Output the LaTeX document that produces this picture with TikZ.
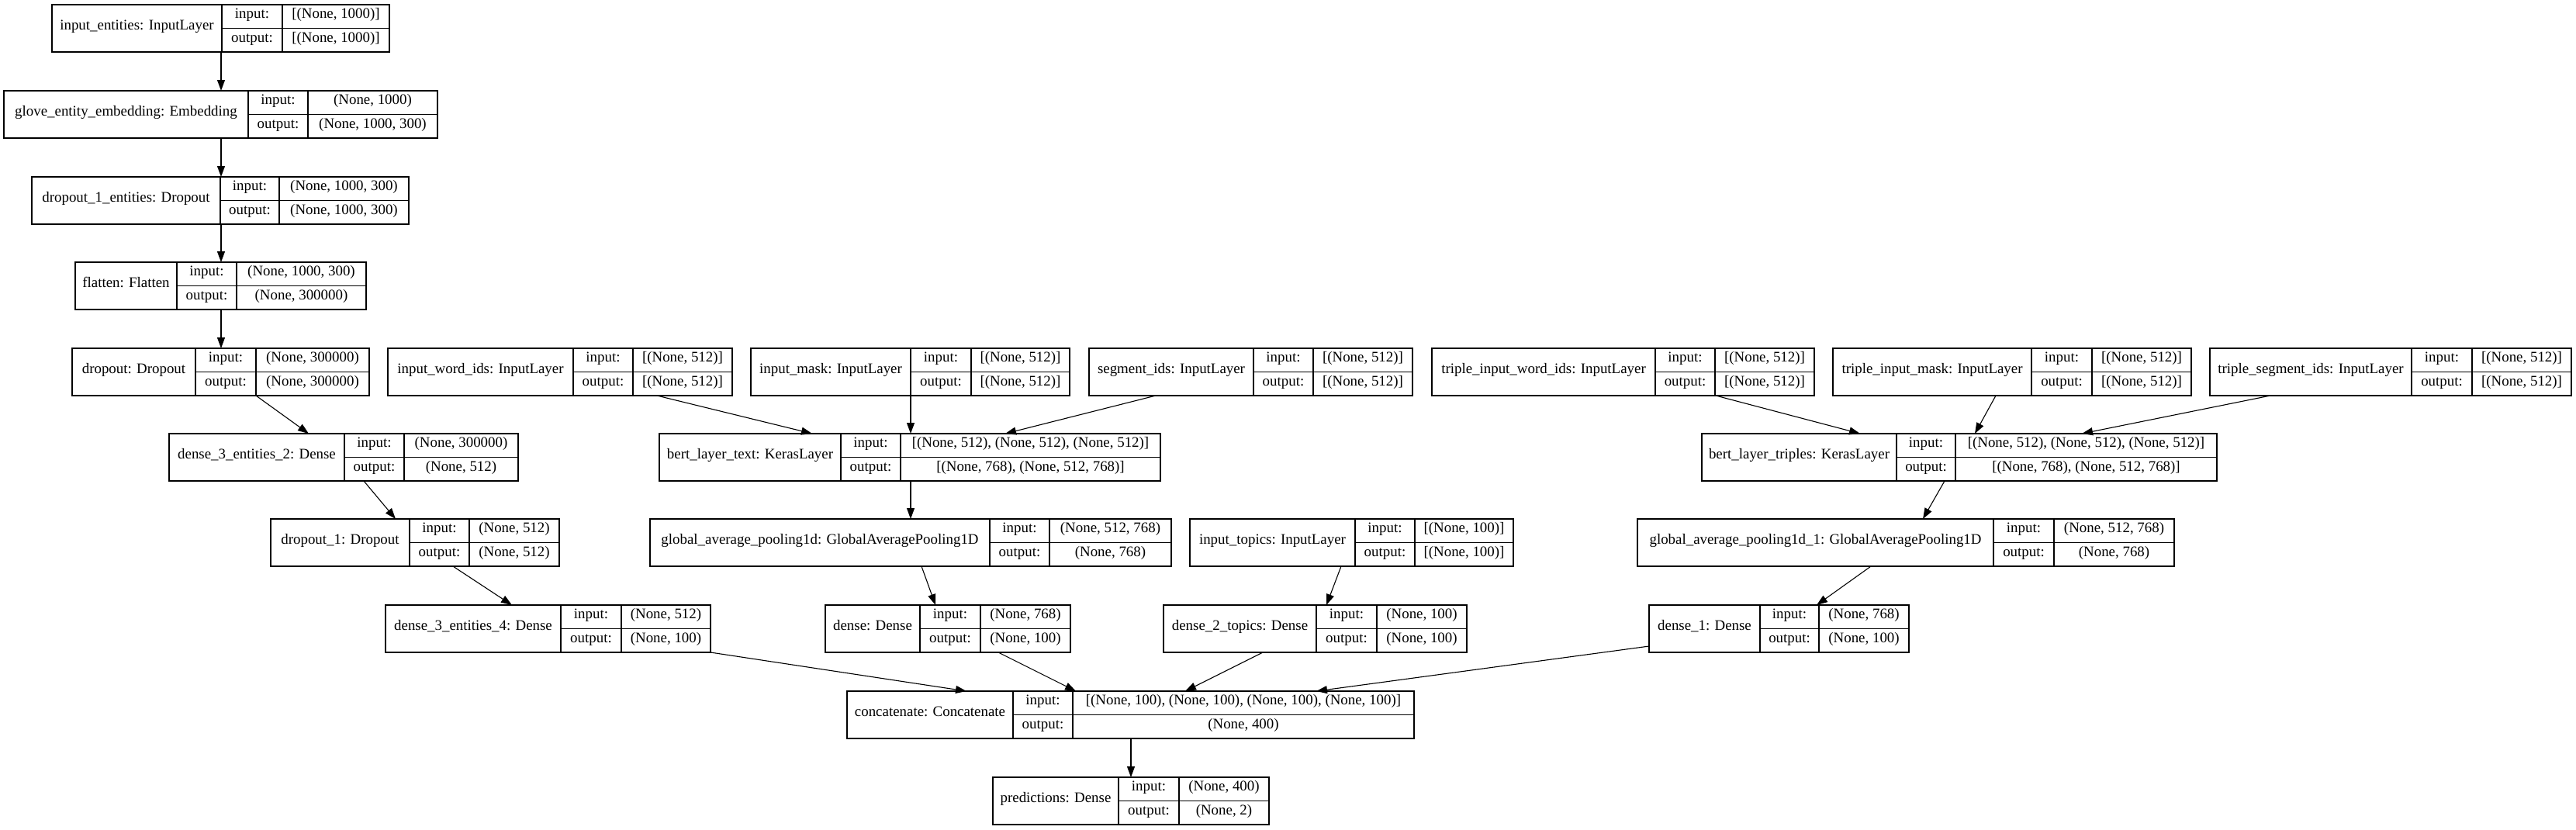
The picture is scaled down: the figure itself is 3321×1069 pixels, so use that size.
\documentclass[tikz,border=0pt]{standalone}
\usepackage{fontspec}
\setmainfont{Liberation Serif}
\usepackage{tikz}
\usetikzlibrary{arrows.meta}
\tikzset{
  layerbox/.style={draw=black, line width=1.1pt, inner sep=0pt, outer sep=0pt, minimum height=61pt},
  cell/.style={draw=black, line width=1.1pt},
  celltext/.style={inner sep=0pt, text height=0.7em, text depth=0.22em, font=\fontsize{18.9}{22}\selectfont},
  flow/.style={-{Triangle[length=14pt,width=10pt]}, line width=1.1pt, draw=black},
}
% id, x left, x input col, x value col, x right, y top, name, input, output
\newcommand{\layer}[9]{%
  \node[layerbox,minimum width={(#5-#2)*1pt},anchor=north west] (#1) at (#2,#6) {};
  \draw[cell] (#3,#6) -- ++(0,61) (#4,#6) -- ++(0,61) (#3,#6+30.5) -- (#5,#6+30.5);
  \node[celltext] (#1-name) at ({(#2+#3)/2},#6+30.5) {#7};
  \node[celltext] (#1-inl) at ({(#3+#4)/2},#6+15.25) {input:};
  \node[celltext] (#1-outl) at ({(#3+#4)/2},#6+45.75) {output:};
  \node[celltext] (#1-in) at ({(#4+#5)/2},#6+15.25) {#8};
  \node[celltext] (#1-out) at ({(#4+#5)/2},#6+45.75) {#9};
}

\begin{document}
\begin{tikzpicture}[x=1pt,y=-1pt]
  \path[fill=white] (0,0) rectangle (3321,1069);
  % entities branch
  \layer{ie}{67}{286}{364}{502}{6}{input\_entities: InputLayer}{[(None, 1000)]}{[(None, 1000)]}
  \layer{emb}{5}{320}{397}{564}{117}{glove\_entity\_embedding: Embedding}{(None, 1000)}{(None, 1000, 300)}
  \layer{dpe}{41}{284}{360}{527}{228}{dropout\_1\_entities: Dropout}{(None, 1000, 300)}{(None, 1000, 300)}
  \layer{fl}{97}{228}{305}{472}{338}{flatten: Flatten}{(None, 1000, 300)}{(None, 300000)}
  \layer{dp}{93}{252}{330}{476}{449}{dropout: Dropout}{(None, 300000)}{(None, 300000)}
  \layer{d3a}{218}{444}{521}{668}{559}{dense\_3\_entities\_2: Dense}{(None, 300000)}{(None, 512)}
  \layer{dp1}{349}{528}{605}{721}{669}{dropout\_1: Dropout}{(None, 512)}{(None, 512)}
  \layer{d3b}{497}{723}{801}{916}{780}{dense\_3\_entities\_4: Dense}{(None, 512)}{(None, 100)}
  % text bert
  \layer{wid}{500}{739}{816}{944}{449}{input\_word\_ids: InputLayer}{[(None, 512)]}{[(None, 512)]}
  \layer{msk}{968}{1174}{1252}{1379}{449}{input\_mask: InputLayer}{[(None, 512)]}{[(None, 512)]}
  \layer{seg}{1404}{1616}{1693}{1821}{449}{segment\_ids: InputLayer}{[(None, 512)]}{[(None, 512)]}
  \layer{btx}{850}{1084}{1161}{1496}{559}{bert\_layer\_text: KerasLayer}{[(None, 512), (None, 512), (None, 512)]}{[(None, 768), (None, 512, 768)]}
  \layer{gap}{838}{1276}{1353}{1510}{669}{global\_average\_pooling1d: GlobalAveragePooling1D}{(None, 512, 768)}{(None, 768)}
  \layer{dn}{1064}{1186}{1264}{1380}{780}{dense: Dense}{(None, 768)}{(None, 100)}
  % topics
  \layer{top}{1534}{1747}{1824}{1951}{669}{input\_topics: InputLayer}{[(None, 100)]}{[(None, 100)]}
  \layer{dtop}{1500}{1697}{1775}{1891}{780}{dense\_2\_topics: Dense}{(None, 100)}{(None, 100)}
  % triples bert
  \layer{twid}{1846}{2134}{2211}{2339}{449}{triple\_input\_word\_ids: InputLayer}{[(None, 512)]}{[(None, 512)]}
  \layer{tmsk}{2363}{2619}{2697}{2825}{449}{triple\_input\_mask: InputLayer}{[(None, 512)]}{[(None, 512)]}
  \layer{tseg}{2849}{3109}{3187}{3315}{449}{triple\_segment\_ids: InputLayer}{[(None, 512)]}{[(None, 512)]}
  \layer{btr}{2194}{2445}{2521}{2858}{559}{bert\_layer\_triples: KerasLayer}{[(None, 512), (None, 512), (None, 512)]}{[(None, 768), (None, 512, 768)]}
  \layer{gap1}{2111}{2570}{2648}{2803}{669}{global\_average\_pooling1d\_1: GlobalAveragePooling1D}{(None, 512, 768)}{(None, 768)}
  \layer{dn1}{2126}{2269}{2345}{2461}{780}{dense\_1: Dense}{(None, 768)}{(None, 100)}
  % head
  \layer{cat}{1092}{1306}{1383}{1823}{891}{concatenate: Concatenate}{[(None, 100), (None, 100), (None, 100), (None, 100)]}{(None, 400)}
  \layer{pred}{1280}{1442}{1520}{1636}{1002}{predictions: Dense}{(None, 400)}{(None, 2)}
  % arrows
  \draw[flow] ([xshift=218pt]ie.south west) -- ([xshift=280pt]emb.north west);
  \draw[flow] ([xshift=280pt]emb.south west) -- ([xshift=244pt]dpe.north west);
  \draw[flow] ([xshift=244pt]dpe.south west) -- ([xshift=188pt]fl.north west);
  \draw[flow] ([xshift=188pt]fl.south west) -- ([xshift=192pt]dp.north west);
  \draw[flow] ([xshift=237pt]dp.south west) -- ([xshift=180pt]d3a.north west);
  \draw[flow] ([xshift=251pt]d3a.south west) -- ([xshift=161pt]dp1.north west);
  \draw[flow] ([xshift=235pt]dp1.south west) -- ([xshift=163pt]d3b.north west);
  \draw[flow] (d3b.south east) -- ([xshift=154pt]cat.north west);
  \draw[flow] ([xshift=347pt]wid.south west) -- ([xshift=197pt]btx.north west);
  \draw[flow] ([xshift=206pt]msk.south west) -- ([xshift=324pt]btx.north west);
  \draw[flow] ([xshift=86pt]seg.south west) -- ([xshift=446pt]btx.north west);
  \draw[flow] ([xshift=324pt]btx.south west) -- ([xshift=336pt]gap.north west);
  \draw[flow] ([xshift=350pt]gap.south west) -- ([xshift=142pt]dn.north west);
  \draw[flow] ([xshift=223pt]dn.south west) -- ([xshift=295pt]cat.north west);
  \draw[flow] ([xshift=195pt]top.south west) -- ([xshift=210pt]dtop.north west);
  \draw[flow] ([xshift=128pt]dtop.south west) -- ([xshift=436pt]cat.north west);
  \draw[flow] ([yshift=8pt]dn1.south west) -- ([xshift=605pt]cat.north west);
  \draw[flow] ([xshift=366pt]twid.south west) -- ([xshift=204pt]btr.north west);
  \draw[flow] ([xshift=210pt]tmsk.south west) -- ([xshift=352pt]btr.north west);
  \draw[flow] ([xshift=78pt]tseg.south west) -- ([xshift=490pt]btr.north west);
  \draw[flow] ([xshift=313pt]btr.south west) -- ([xshift=368pt]gap1.north west);
  \draw[flow] ([xshift=301pt]gap1.south west) -- ([xshift=216pt]dn1.north west);
  \draw[flow] ([xshift=366pt]cat.south west) -- ([xshift=178pt]pred.north west);
\end{tikzpicture}
\end{document}
